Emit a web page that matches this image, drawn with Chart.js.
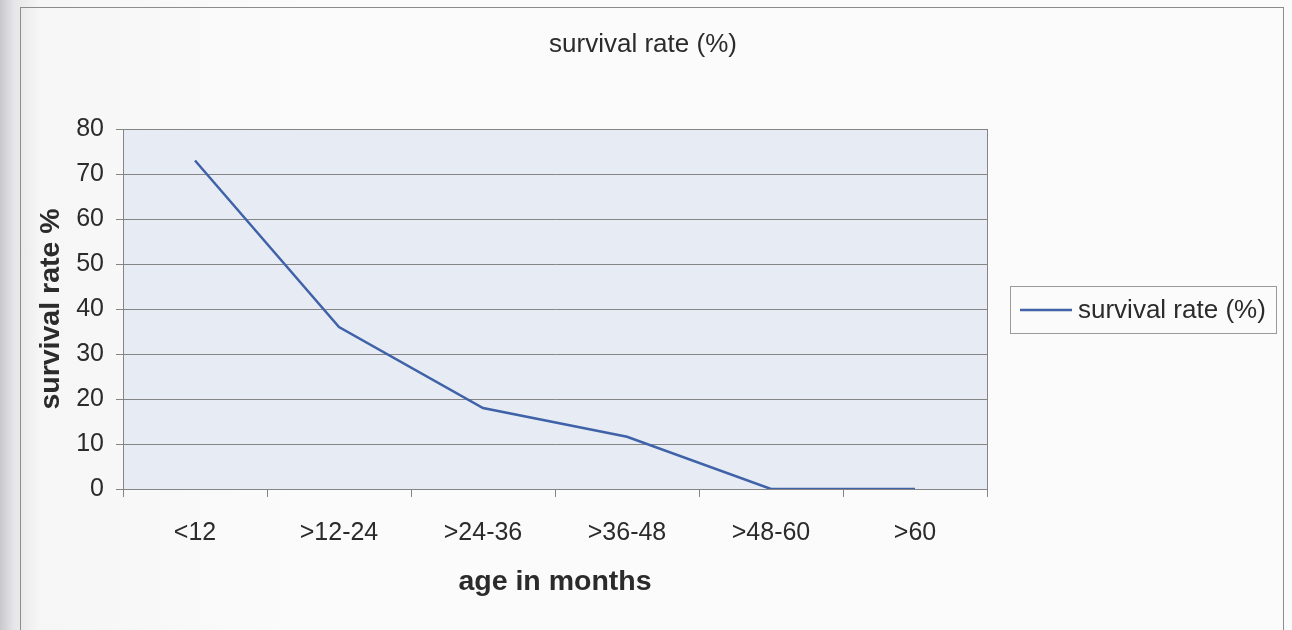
<!DOCTYPE html>
<html>
<head>
<meta charset="utf-8">
<script src="https://cdn.jsdelivr.net/npm/chart.js@4/dist/chart.umd.min.js"></script>
<style>
  html, body { margin: 0; padding: 0; }
  body {
    width: 1292px; height: 630px; overflow: hidden; position: relative;
    background: linear-gradient(to right, #c9c9cd 0px, #e6e6e8 14px, #f6f6f6 40px, #fbfbfb 300px);
  }
  #frame {
    position: absolute; left: 20px; top: 7px; width: 1262px; height: 640px;
    border: 1px solid #8c8c8c; background: transparent;
  }
  #chart { position: absolute; left: 0; top: 0; }
</style>
</head>
<body>
<div id="frame"></div>
<canvas id="chart" width="1292" height="630"></canvas>
<script>
// Données
const categories = ['<12', '>12-24', '>24-36', '>36-48', '>48-60', '>60'];
const survivalRate = [73, 36, 18, 11.6, 0, 0];
const yTicks = [0, 10, 20, 30, 40, 50, 60, 70, 80];

const seriesName = 'survival rate (%)';
const lineColor = '#3f62a8';
const textColor = '#2b2b2b';
const fontFamily = '"Liberation Sans", Arial, sans-serif';

// Fond gris-bleu de la zone de tracé + cadre
const plotBackground = {
  id: 'plotBackground',
  beforeDraw(chart) {
    const { ctx, chartArea: a } = chart;
    ctx.save();
    ctx.fillStyle = '#e7ebf3';
    ctx.fillRect(a.left, a.top, a.right - a.left, a.bottom - a.top);
    ctx.restore();
  },
  afterDatasetsDraw(chart) {
    const { ctx, chartArea: a } = chart;
    ctx.save();
    ctx.strokeStyle = '#858585';
    ctx.lineWidth = 1;
    ctx.strokeRect(a.left + 0.5, a.top + 0.5, a.right - a.left, a.bottom - a.top);
    ctx.restore();
  }
};

// Titre et légende dessinés à la main (façon Excel)
const excelText = {
  id: 'excelText',
  afterDraw(chart) {
    const { ctx } = chart;
    ctx.save();
    ctx.fillStyle = textColor;
    ctx.font = '26px ' + fontFamily;
    ctx.textAlign = 'center';
    ctx.textBaseline = 'middle';
    ctx.fillText(seriesName, 643, 45);

    // légende
    ctx.strokeStyle = '#9a9a9a';
    ctx.lineWidth = 1;
    ctx.strokeRect(1010.5, 286.5, 266, 47);
    ctx.strokeStyle = lineColor;
    ctx.lineWidth = 2.5;
    ctx.beginPath();
    ctx.moveTo(1020, 310);
    ctx.lineTo(1072, 310);
    ctx.stroke();
    ctx.fillStyle = textColor;
    ctx.font = '26px ' + fontFamily;
    ctx.textAlign = 'left';
    ctx.fillText(seriesName, 1078, 311);
    ctx.restore();
  }
};

const ctx = document.getElementById('chart').getContext('2d');
new Chart(ctx, {
  type: 'line',
  data: {
    labels: categories,
    datasets: [{
      label: seriesName,
      data: survivalRate,
      borderColor: lineColor,
      borderWidth: 2.5,
      pointRadius: 0,
      tension: 0,
      fill: false
    }]
  },
  options: {
    responsive: false,
    animation: false,
    layout: { padding: { left: 0, right: 305, top: 129, bottom: 0 } },
    plugins: {
      legend: { display: false },
      title: { display: false },
      tooltip: { enabled: false }
    },
    scales: {
      x: {
        offset: true,
        grid: {
          display: true, drawOnChartArea: false, drawTicks: true,
          offset: true, tickLength: 8, color: '#858585', lineWidth: 1
        },
        border: { display: true, color: '#858585', width: 1 },
        ticks: {
          color: textColor, padding: 21, maxRotation: 0, autoSkip: false,
          font: { family: fontFamily, size: 25 }
        },
        title: {
          display: true, text: 'age in months', color: textColor,
          font: { family: fontFamily, size: 28.5, weight: 'bold' },
          padding: { top: 0, bottom: 31 }
        },
        afterFit(s) { s.height = 141; }
      },
      y: {
        min: 0, max: 80,
        afterBuildTicks(s) { s.ticks = yTicks.map(v => ({ value: v })); },
        grid: {
          color: '#858585', lineWidth: 1, drawTicks: true, tickLength: 7
        },
        border: { display: true, color: '#858585', width: 1 },
        ticks: {
          color: textColor, padding: 12,
          font: { family: fontFamily, size: 25 }
        },
        title: {
          display: true, text: 'survival rate %', color: textColor,
          font: { family: fontFamily, size: 28.5, weight: 'bold' },
          padding: { top: 34, bottom: 0 }
        },
        afterFit(s) { s.width = 123; }
      }
    }
  },
  plugins: [plotBackground, excelText]
});
</script>
</body>
</html>
